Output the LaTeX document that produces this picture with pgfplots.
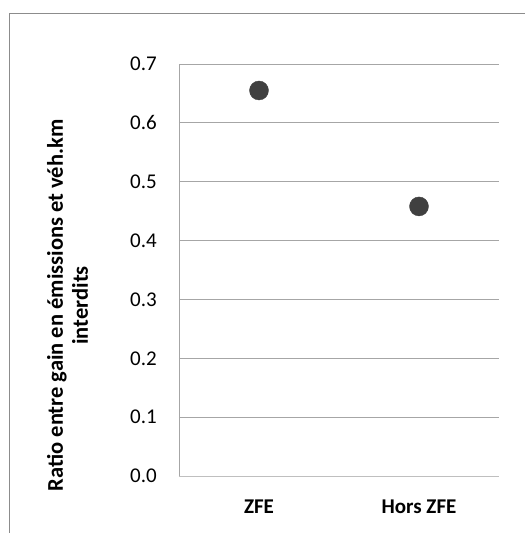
\documentclass[border=0pt]{standalone}
\usepackage{pgfplots}
\pgfplotsset{compat=1.18}
\usepackage{fontspec}
\setmainfont{Carlito}
\definecolor{gridc}{HTML}{A6A6A6}
\definecolor{axc}{HTML}{BFBFBF}
\definecolor{markc}{HTML}{404040}
\definecolor{borderc}{HTML}{8C8C8C}
\begin{document}
\begin{tikzpicture}
\begin{axis}[
  name=ax,
  scale only axis, width=320pt, height=412pt,
  clip=false,
  xmin=-0.5, xmax=1.5, ymin=0, ymax=0.7,
  xtick={0,1}, xticklabels={ZFE,Hors ZFE},
  ytick={0,0.1,...,0.7},
  yticklabel={\pgfmathprintnumber[fixed,fixed zerofill,precision=1]{\tick}},
  /pgf/number format/assume math mode=true,
  major tick length=0pt,
  ymajorgrids, grid style={gridc, line width=0.9pt},
  axis lines*=left,
  axis line style={-, line width=0.9pt},
  x axis line style={axc},
  y axis line style={gridc},
  xticklabel style={font=\fontsize{21}{25}\selectfont\bfseries, anchor=center, yshift=-31pt},
  yticklabel style={font=\fontsize{21}{25}\selectfont, anchor=east, inner sep=0pt, xshift=-22pt},
  ylabel={Ratio entre gain en émissions et véh.km\\interdits},
  ylabel style={font=\fontsize{22.5}{25}\selectfont\bfseries, align=center, at={(axis description cs:-0.348,0.414)}, anchor=center},
]
\addplot[only marks, mark=*, mark size=9.5pt, mark options={fill=markc, draw=markc}] coordinates {(0,0.655) (1,0.458)};
\draw[borderc, line width=1.2pt] (rel axis cs:-0.5297,-0.15) -- (rel axis cs:-0.5297,1.1226) -- (rel axis cs:1.09,1.1226);
\coordinate (bl) at (rel axis cs:-0.559375,-0.138350);
\coordinate (tr) at (rel axis cs:1.078125,1.155340);
\end{axis}
\pgfresetboundingbox
\useasboundingbox (bl) rectangle (tr);
\end{tikzpicture}
\end{document}
